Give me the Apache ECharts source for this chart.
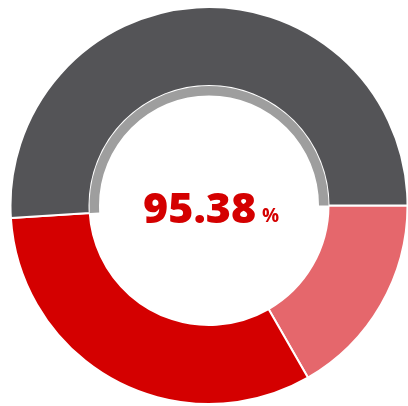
<!DOCTYPE html>
<html><head><meta charset="utf-8">
<script src="https://cdn.jsdelivr.net/npm/echarts@6/dist/echarts.min.js"></script>
<style>html,body{margin:0;padding:0;background:#fff}#c{width:408px;height:406px}</style>
</head><body><div id="c"></div>
<script>
const categories = ['Light red', 'Red', 'Gray'];
const values = [16.7, 32.3, 51.0];
const colors = ['#e5676c', '#d40000', '#545457'];
const ringColors = ['rgba(0,0,0,0)', 'rgba(0,0,0,0)', '#9e9e9e'];
const centerLabel = '95.38';
const centerUnit = '%';

const chart = echarts.init(document.getElementById('c'));
chart.setOption({
  animation: false,
  series: [
    {
      type: 'pie', center: [209, 205.5], radius: [119.5, 198.5],
      startAngle: 0, clockwise: true, silent: true,
      label: {show: false}, labelLine: {show: false},
      itemStyle: {borderColor: '#fff', borderWidth: 2},
      data: categories.map((n, i) => ({name: n, value: values[i], itemStyle: {color: colors[i]}}))
    },
    {
      type: 'pie', center: [209, 205.5], radius: [110, 119.5],
      startAngle: 0, clockwise: true, silent: true,
      label: {show: false}, labelLine: {show: false},
      data: categories.map((n, i) => ({name: n + ' ring', value: values[i], itemStyle: {color: ringColors[i]}}))
    }
  ],
  graphic: [
    {type: 'text', x: 143, y: 232,
     style: {text: centerLabel, textAlign: 'left', textVerticalAlign: 'bottom',
             font: '800 43px "Open Sans"', fill: '#d40000'}},
    {type: 'text', x: 262, y: 226,
     style: {text: centerUnit, textAlign: 'left', textVerticalAlign: 'bottom',
             font: '700 19px "Open Sans"', fill: '#d40000'}}
  ]
});
</script></body></html>
